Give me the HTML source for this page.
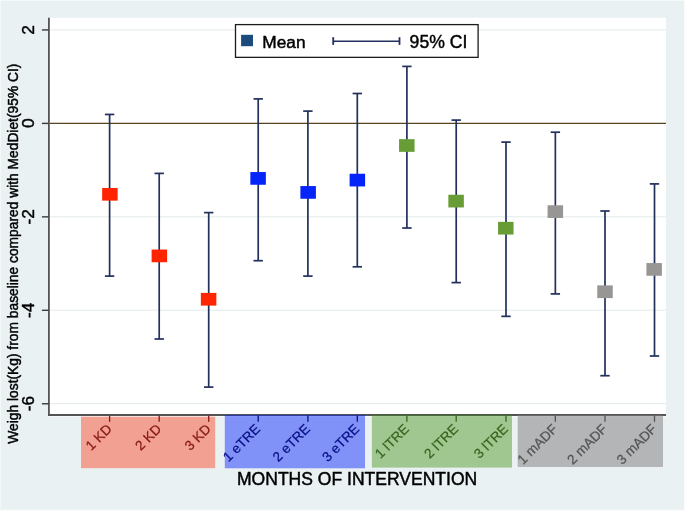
<!DOCTYPE html>
<html><head><meta charset="utf-8"><style>
html,body{margin:0;padding:0;background:#EAF1F3;}
svg{display:block;font-family:"Liberation Sans", sans-serif;will-change:transform;}
text{stroke-linejoin:round;}
</style></head><body>
<svg width="685" height="511" viewBox="0 0 685 511">
<rect x="0" y="0" width="685" height="511" fill="#EAF1F3"/>
<rect x="0" y="0" width="685" height="1" fill="#F4F8F9"/>
<rect x="0" y="0" width="1" height="511" fill="#F4F8F9"/>
<rect x="684" y="0" width="1" height="511" fill="#FAFCFC"/>
<rect x="0" y="510" width="685" height="1" fill="#FAFCFC"/>
<rect x="0" y="509.4" width="685" height="0.6" fill="#F2F7F8"/>
<rect x="49.7" y="17.8" width="616.3" height="396.2" fill="#FFFFFF"/>
<line x1="49.7" x2="666.0" y1="29.84" y2="29.84" stroke="#E3EAEA" stroke-width="1.0"/>
<line x1="49.7" x2="666.0" y1="216.76" y2="216.76" stroke="#E3EAEA" stroke-width="1.0"/>
<line x1="49.7" x2="666.0" y1="310.22" y2="310.22" stroke="#E3EAEA" stroke-width="1.0"/>
<line x1="49.7" x2="666.0" y1="403.68" y2="403.68" stroke="#E3EAEA" stroke-width="1.0"/>
<line x1="49.7" x2="666.0" y1="123.35" y2="123.35" stroke="#574420" stroke-width="1.25"/>
<line x1="109.6" x2="109.6" y1="114.45" y2="276.1" stroke="#22305C" stroke-width="1.7"/>
<line x1="104.90" x2="114.30" y1="114.45" y2="114.45" stroke="#22305C" stroke-width="1.7"/>
<line x1="104.90" x2="114.30" y1="276.1" y2="276.1" stroke="#22305C" stroke-width="1.7"/>
<line x1="159.2" x2="159.2" y1="173.4" y2="339.0" stroke="#22305C" stroke-width="1.7"/>
<line x1="154.50" x2="163.90" y1="173.4" y2="173.4" stroke="#22305C" stroke-width="1.7"/>
<line x1="154.50" x2="163.90" y1="339.0" y2="339.0" stroke="#22305C" stroke-width="1.7"/>
<line x1="208.7" x2="208.7" y1="212.6" y2="387.1" stroke="#22305C" stroke-width="1.7"/>
<line x1="204.00" x2="213.40" y1="212.6" y2="212.6" stroke="#22305C" stroke-width="1.7"/>
<line x1="204.00" x2="213.40" y1="387.1" y2="387.1" stroke="#22305C" stroke-width="1.7"/>
<line x1="258.2" x2="258.2" y1="98.9" y2="260.7" stroke="#22305C" stroke-width="1.7"/>
<line x1="253.50" x2="262.90" y1="98.9" y2="98.9" stroke="#22305C" stroke-width="1.7"/>
<line x1="253.50" x2="262.90" y1="260.7" y2="260.7" stroke="#22305C" stroke-width="1.7"/>
<line x1="307.9" x2="307.9" y1="111.1" y2="276.1" stroke="#22305C" stroke-width="1.7"/>
<line x1="303.20" x2="312.60" y1="111.1" y2="111.1" stroke="#22305C" stroke-width="1.7"/>
<line x1="303.20" x2="312.60" y1="276.1" y2="276.1" stroke="#22305C" stroke-width="1.7"/>
<line x1="357.3" x2="357.3" y1="93.5" y2="266.8" stroke="#22305C" stroke-width="1.7"/>
<line x1="352.60" x2="362.00" y1="93.5" y2="93.5" stroke="#22305C" stroke-width="1.7"/>
<line x1="352.60" x2="362.00" y1="266.8" y2="266.8" stroke="#22305C" stroke-width="1.7"/>
<line x1="406.9" x2="406.9" y1="66.4" y2="228.0" stroke="#22305C" stroke-width="1.7"/>
<line x1="402.20" x2="411.60" y1="66.4" y2="66.4" stroke="#22305C" stroke-width="1.7"/>
<line x1="402.20" x2="411.60" y1="228.0" y2="228.0" stroke="#22305C" stroke-width="1.7"/>
<line x1="456.2" x2="456.2" y1="120.1" y2="282.6" stroke="#22305C" stroke-width="1.7"/>
<line x1="451.50" x2="460.90" y1="120.1" y2="120.1" stroke="#22305C" stroke-width="1.7"/>
<line x1="451.50" x2="460.90" y1="282.6" y2="282.6" stroke="#22305C" stroke-width="1.7"/>
<line x1="506.0" x2="506.0" y1="142.1" y2="316.35" stroke="#22305C" stroke-width="1.7"/>
<line x1="501.30" x2="510.70" y1="142.1" y2="142.1" stroke="#22305C" stroke-width="1.7"/>
<line x1="501.30" x2="510.70" y1="316.35" y2="316.35" stroke="#22305C" stroke-width="1.7"/>
<line x1="555.35" x2="555.35" y1="132.2" y2="293.9" stroke="#22305C" stroke-width="1.7"/>
<line x1="550.65" x2="560.05" y1="132.2" y2="132.2" stroke="#22305C" stroke-width="1.7"/>
<line x1="550.65" x2="560.05" y1="293.9" y2="293.9" stroke="#22305C" stroke-width="1.7"/>
<line x1="605.0" x2="605.0" y1="211.0" y2="375.7" stroke="#22305C" stroke-width="1.7"/>
<line x1="600.30" x2="609.70" y1="211.0" y2="211.0" stroke="#22305C" stroke-width="1.7"/>
<line x1="600.30" x2="609.70" y1="375.7" y2="375.7" stroke="#22305C" stroke-width="1.7"/>
<line x1="654.5" x2="654.5" y1="183.9" y2="356.0" stroke="#22305C" stroke-width="1.7"/>
<line x1="649.80" x2="659.20" y1="183.9" y2="183.9" stroke="#22305C" stroke-width="1.7"/>
<line x1="649.80" x2="659.20" y1="356.0" y2="356.0" stroke="#22305C" stroke-width="1.7"/>
<rect x="102.15" y="187.95" width="15.5" height="12.7" fill="#FF2503"/>
<rect x="151.60" y="249.55" width="15.5" height="12.7" fill="#FF2503"/>
<rect x="200.85" y="292.90" width="15.5" height="12.7" fill="#FF2503"/>
<rect x="250.35" y="172.05" width="15.5" height="12.7" fill="#0524FA"/>
<rect x="300.40" y="186.05" width="15.5" height="12.7" fill="#0524FA"/>
<rect x="349.60" y="173.75" width="15.5" height="12.7" fill="#0524FA"/>
<rect x="399.05" y="139.15" width="15.5" height="12.7" fill="#689D36"/>
<rect x="448.35" y="194.75" width="15.5" height="12.7" fill="#689D36"/>
<rect x="498.05" y="221.85" width="15.5" height="12.7" fill="#689D36"/>
<rect x="547.58" y="205.25" width="15.5" height="12.7" fill="#979694"/>
<rect x="597.25" y="285.40" width="15.5" height="12.7" fill="#979694"/>
<rect x="646.40" y="263.05" width="15.5" height="12.7" fill="#979694"/>
<line x1="48.9" x2="48.9" y1="17.8" y2="415.5" stroke="#545454" stroke-width="1.8"/>
<rect x="48" y="415.9" width="618.0" height="1.3" fill="#F6F9FA"/>
<line x1="48.0" x2="666.0" y1="414.9" y2="414.9" stroke="#545454" stroke-width="2.0"/>
<line x1="41.9" x2="48.5" y1="29.94" y2="29.94" stroke="#383838" stroke-width="1.4"/>
<text transform="translate(34.2,29.84) rotate(-90)" text-anchor="middle" font-size="17.3" fill="#000" stroke="#000" stroke-width="0.45">2</text>
<line x1="41.9" x2="48.5" y1="123.40" y2="123.40" stroke="#383838" stroke-width="1.4"/>
<text transform="translate(34.2,123.30) rotate(-90)" text-anchor="middle" font-size="17.3" fill="#000" stroke="#000" stroke-width="0.45">0</text>
<line x1="41.9" x2="48.5" y1="216.86" y2="216.86" stroke="#383838" stroke-width="1.4"/>
<text transform="translate(34.2,216.76) rotate(-90)" text-anchor="middle" font-size="17.3" fill="#000" stroke="#000" stroke-width="0.45">-2</text>
<line x1="41.9" x2="48.5" y1="310.32" y2="310.32" stroke="#383838" stroke-width="1.4"/>
<text transform="translate(34.2,310.22) rotate(-90)" text-anchor="middle" font-size="17.3" fill="#000" stroke="#000" stroke-width="0.45">-4</text>
<line x1="41.9" x2="48.5" y1="403.78" y2="403.78" stroke="#383838" stroke-width="1.4"/>
<text transform="translate(34.2,403.68) rotate(-90)" text-anchor="middle" font-size="17.3" fill="#000" stroke="#000" stroke-width="0.45">-6</text>
<rect x="81" y="416.7" width="134.20" height="51.50" fill="rgba(255,40,0,0.40)"/>
<rect x="224.8" y="414.9" width="140.20" height="53.40" fill="rgba(0,30,255,0.45)"/>
<rect x="371.9" y="414.9" width="140.10" height="52.70" fill="rgba(60,140,10,0.42)"/>
<rect x="517.7" y="414.9" width="145.30" height="52.10" fill="rgba(126,122,122,0.50)"/>
<line x1="109.6" x2="109.6" y1="415.5" y2="421.8" stroke="#871812" stroke-width="1.3"/>
<text transform="translate(109.40,426.7) rotate(-45)" text-anchor="end" dominant-baseline="central" font-size="13.6" fill="#871812" stroke="#871812" stroke-width="0.25">1 KD</text>
<line x1="159.2" x2="159.2" y1="415.5" y2="421.8" stroke="#871812" stroke-width="1.3"/>
<text transform="translate(159.00,426.7) rotate(-45)" text-anchor="end" dominant-baseline="central" font-size="13.6" fill="#871812" stroke="#871812" stroke-width="0.25">2 KD</text>
<line x1="208.7" x2="208.7" y1="415.5" y2="421.8" stroke="#871812" stroke-width="1.3"/>
<text transform="translate(208.50,426.7) rotate(-45)" text-anchor="end" dominant-baseline="central" font-size="13.6" fill="#871812" stroke="#871812" stroke-width="0.25">3 KD</text>
<line x1="258.2" x2="258.2" y1="415.5" y2="421.8" stroke="#0A1088" stroke-width="1.3"/>
<text transform="translate(258.00,426.7) rotate(-45)" text-anchor="end" dominant-baseline="central" font-size="13.6" fill="#0A1088" stroke="#0A1088" stroke-width="0.25">1 eTRE</text>
<line x1="307.9" x2="307.9" y1="415.5" y2="421.8" stroke="#0A1088" stroke-width="1.3"/>
<text transform="translate(307.70,426.7) rotate(-45)" text-anchor="end" dominant-baseline="central" font-size="13.6" fill="#0A1088" stroke="#0A1088" stroke-width="0.25">2 eTRE</text>
<line x1="357.3" x2="357.3" y1="415.5" y2="421.8" stroke="#0A1088" stroke-width="1.3"/>
<text transform="translate(357.10,426.7) rotate(-45)" text-anchor="end" dominant-baseline="central" font-size="13.6" fill="#0A1088" stroke="#0A1088" stroke-width="0.25">3 eTRE</text>
<line x1="406.9" x2="406.9" y1="415.5" y2="421.8" stroke="#38661E" stroke-width="1.3"/>
<text transform="translate(406.70,426.7) rotate(-45)" text-anchor="end" dominant-baseline="central" font-size="13.6" fill="#38661E" stroke="#38661E" stroke-width="0.25">1 lTRE</text>
<line x1="456.2" x2="456.2" y1="415.5" y2="421.8" stroke="#38661E" stroke-width="1.3"/>
<text transform="translate(456.00,426.7) rotate(-45)" text-anchor="end" dominant-baseline="central" font-size="13.6" fill="#38661E" stroke="#38661E" stroke-width="0.25">2 lTRE</text>
<line x1="506.0" x2="506.0" y1="415.5" y2="421.8" stroke="#38661E" stroke-width="1.3"/>
<text transform="translate(505.80,426.7) rotate(-45)" text-anchor="end" dominant-baseline="central" font-size="13.6" fill="#38661E" stroke="#38661E" stroke-width="0.25">3 lTRE</text>
<line x1="555.35" x2="555.35" y1="415.5" y2="421.8" stroke="#555555" stroke-width="1.3"/>
<text transform="translate(555.15,426.7) rotate(-45)" text-anchor="end" dominant-baseline="central" font-size="13.6" fill="#555555" stroke="#555555" stroke-width="0.25">1 mADF</text>
<line x1="605.0" x2="605.0" y1="415.5" y2="421.8" stroke="#555555" stroke-width="1.3"/>
<text transform="translate(604.80,426.7) rotate(-45)" text-anchor="end" dominant-baseline="central" font-size="13.6" fill="#555555" stroke="#555555" stroke-width="0.25">2 mADF</text>
<line x1="654.5" x2="654.5" y1="415.5" y2="421.8" stroke="#555555" stroke-width="1.3"/>
<text transform="translate(654.30,426.7) rotate(-45)" text-anchor="end" dominant-baseline="central" font-size="13.6" fill="#555555" stroke="#555555" stroke-width="0.25">3 mADF</text>
<text transform="translate(17.7,443.7) rotate(-90)" font-size="13.8" fill="#000" stroke="#000" stroke-width="0.45">Weigh lost(Kg) from baseline compared with MedDiet(95% CI)</text>
<text x="237.0" y="484.5" font-size="17.55" fill="#000" stroke="#000" stroke-width="0.45">MONTHS OF INTERVENTION</text>
<rect x="235.5" y="24.6" width="242.6" height="32.75" fill="#FFFFFF" stroke="#1c1c1c" stroke-width="1.3"/>
<rect x="241.1" y="34.8" width="11.9" height="11.4" fill="#1B4A7C"/>
<text x="262.3" y="47.9" font-size="17.3" fill="#000" stroke="#000" stroke-width="0.45">Mean</text>
<line x1="333.2" x2="399.5" y1="41.3" y2="41.3" stroke="#22305C" stroke-width="1.5"/>
<line x1="333.2" x2="333.2" y1="37.2" y2="44.9" stroke="#22305C" stroke-width="1.8"/>
<line x1="399.5" x2="399.5" y1="37.2" y2="44.9" stroke="#22305C" stroke-width="1.8"/>
<text x="409.6" y="48.3" font-size="17.6" fill="#000" stroke="#000" stroke-width="0.45">95% CI</text>
</svg>
</body></html>
